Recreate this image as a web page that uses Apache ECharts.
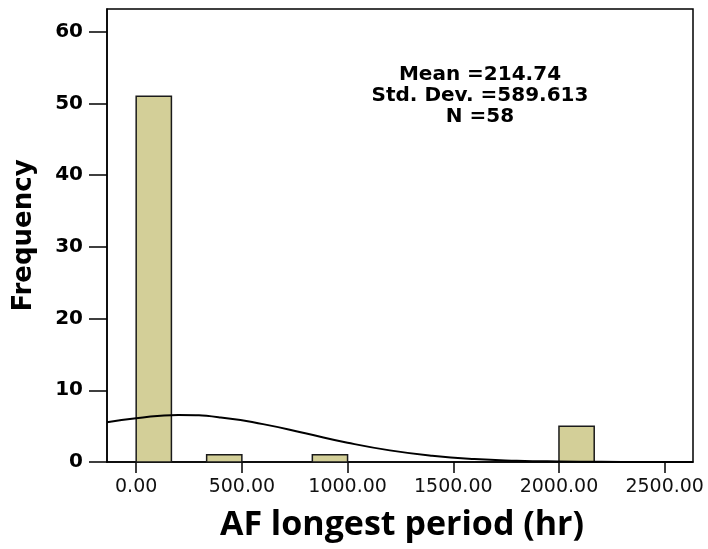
<!DOCTYPE html>
<html>
<head>
<meta charset="utf-8">
<title>AF longest period histogram</title>
<script src="https://cdn.jsdelivr.net/npm/echarts@6/dist/echarts.min.js"></script>
<style>
  html, body { margin: 0; padding: 0; background: #fff; }
  #chart { width: 708px; height: 549px; }
</style>
</head>
<body>
<div id="chart"></div>
<script>
// histogram bins (hr) and counts
var binStart = [0, 333.33, 833.33, 2000]
var binEnd = [166.67, 500, 1000, 2166.67]
var counts = [51, 1, 1, 5]

// normal curve
var curveX = [-138, 0, 200, 400, 600, 800, 1000, 1200, 1400, 1600, 1800, 2000, 2200, 2400, 2634]
var curveY = [5.55, 6.1, 6.55, 6.22, 5.28, 4.0, 2.69, 1.62, 0.87, 0.41, 0.18, 0.07, 0.02, 0.01, 0.0]

var xTicks = [0, 500, 1000, 1500, 2000, 2500]
var yTicks = [0, 10, 20, 30, 40, 50, 60]

var statsLines = ['Mean =214.74', 'Std. Dev. =589.613', 'N =58']

var chart = echarts.init(document.getElementById('chart'))

var bars = binStart.map(function (s, i) {
  return [s, binEnd[i], counts[i]]
})
var curve = curveX.map(function (x, i) {
  return [x, curveY[i]]
})

chart.setOption({
  animation: false,
  title: {
    text: 'AF longest period (hr)',
    left: 397,
    top: 503,
    textAlign: 'center',
    textStyle: {
      fontFamily: 'Open Sans',
      fontWeight: 'bold',
      fontSize: 34,
      color: '#000'
    }
  },
  graphic: [{
    type: 'text',
    x: 480,
    y: 64,
    style: {
      text: statsLines.join('\n'),
      align: 'center',
      verticalAlign: 'top',
      fontFamily: 'DejaVu Sans',
      fontWeight: 'bold',
      fontSize: 20,
      lineHeight: 21,
      fill: '#000'
    }
  }],
  grid: {
    left: 107,
    right: 15,
    top: 9,
    bottom: 87,
    show: true,
    borderColor: '#000',
    borderWidth: 1.5,
    containLabel: false
  },
  xAxis: {
    type: 'value',
    min: -138,
    max: 2634,
    splitLine: { show: false },
    axisLine: { show: true, onZero: false, lineStyle: { color: '#000', width: 1.5 } },
    axisTick: {
      show: true,
      length: 11,
      customValues: xTicks,
      lineStyle: { color: '#000', width: 1.5 }
    },
    axisLabel: {
      customValues: xTicks,
      margin: 16,
      fontFamily: 'DejaVu Sans',
      fontSize: 19,
      color: '#111',
      formatter: function (v) { return v.toFixed(2) }
    }
  },
  yAxis: {
    type: 'value',
    min: 0,
    max: 63.15,
    name: 'Frequency',
    nameLocation: 'middle',
    nameRotate: 90,
    nameGap: 70,
    nameTextStyle: {
      fontFamily: 'DejaVu Sans',
      fontWeight: 'bold',
      fontSize: 26,
      color: '#000'
    },
    splitLine: { show: false },
    axisLine: { show: true, onZero: false, lineStyle: { color: '#000', width: 1.5 } },
    axisTick: {
      show: true,
      length: 18,
      customValues: yTicks,
      lineStyle: { color: '#000', width: 1.5 }
    },
    axisLabel: {
      customValues: yTicks,
      margin: 24,
      fontFamily: 'DejaVu Sans',
      fontWeight: 'bold',
      fontSize: 20,
      color: '#000'
    }
  },
  series: [{
    type: 'custom',
    data: bars,
    encode: { x: [0, 1], y: 2 },
    renderItem: function (params, api) {
      var p0 = api.coord([api.value(0), api.value(2)])
      var p1 = api.coord([api.value(1), 0])
      return {
        type: 'rect',
        shape: { x: p0[0], y: p0[1], width: p1[0] - p0[0], height: p1[1] - p0[1] },
        style: { fill: '#d3cf98', stroke: '#1a1a1a', lineWidth: 1.5 }
      }
    },
    z: 2
  }, {
    type: 'line',
    data: curve,
    smooth: true,
    showSymbol: false,
    lineStyle: { color: '#000', width: 2 },
    z: 3
  }]
})
</script>
</body>
</html>
